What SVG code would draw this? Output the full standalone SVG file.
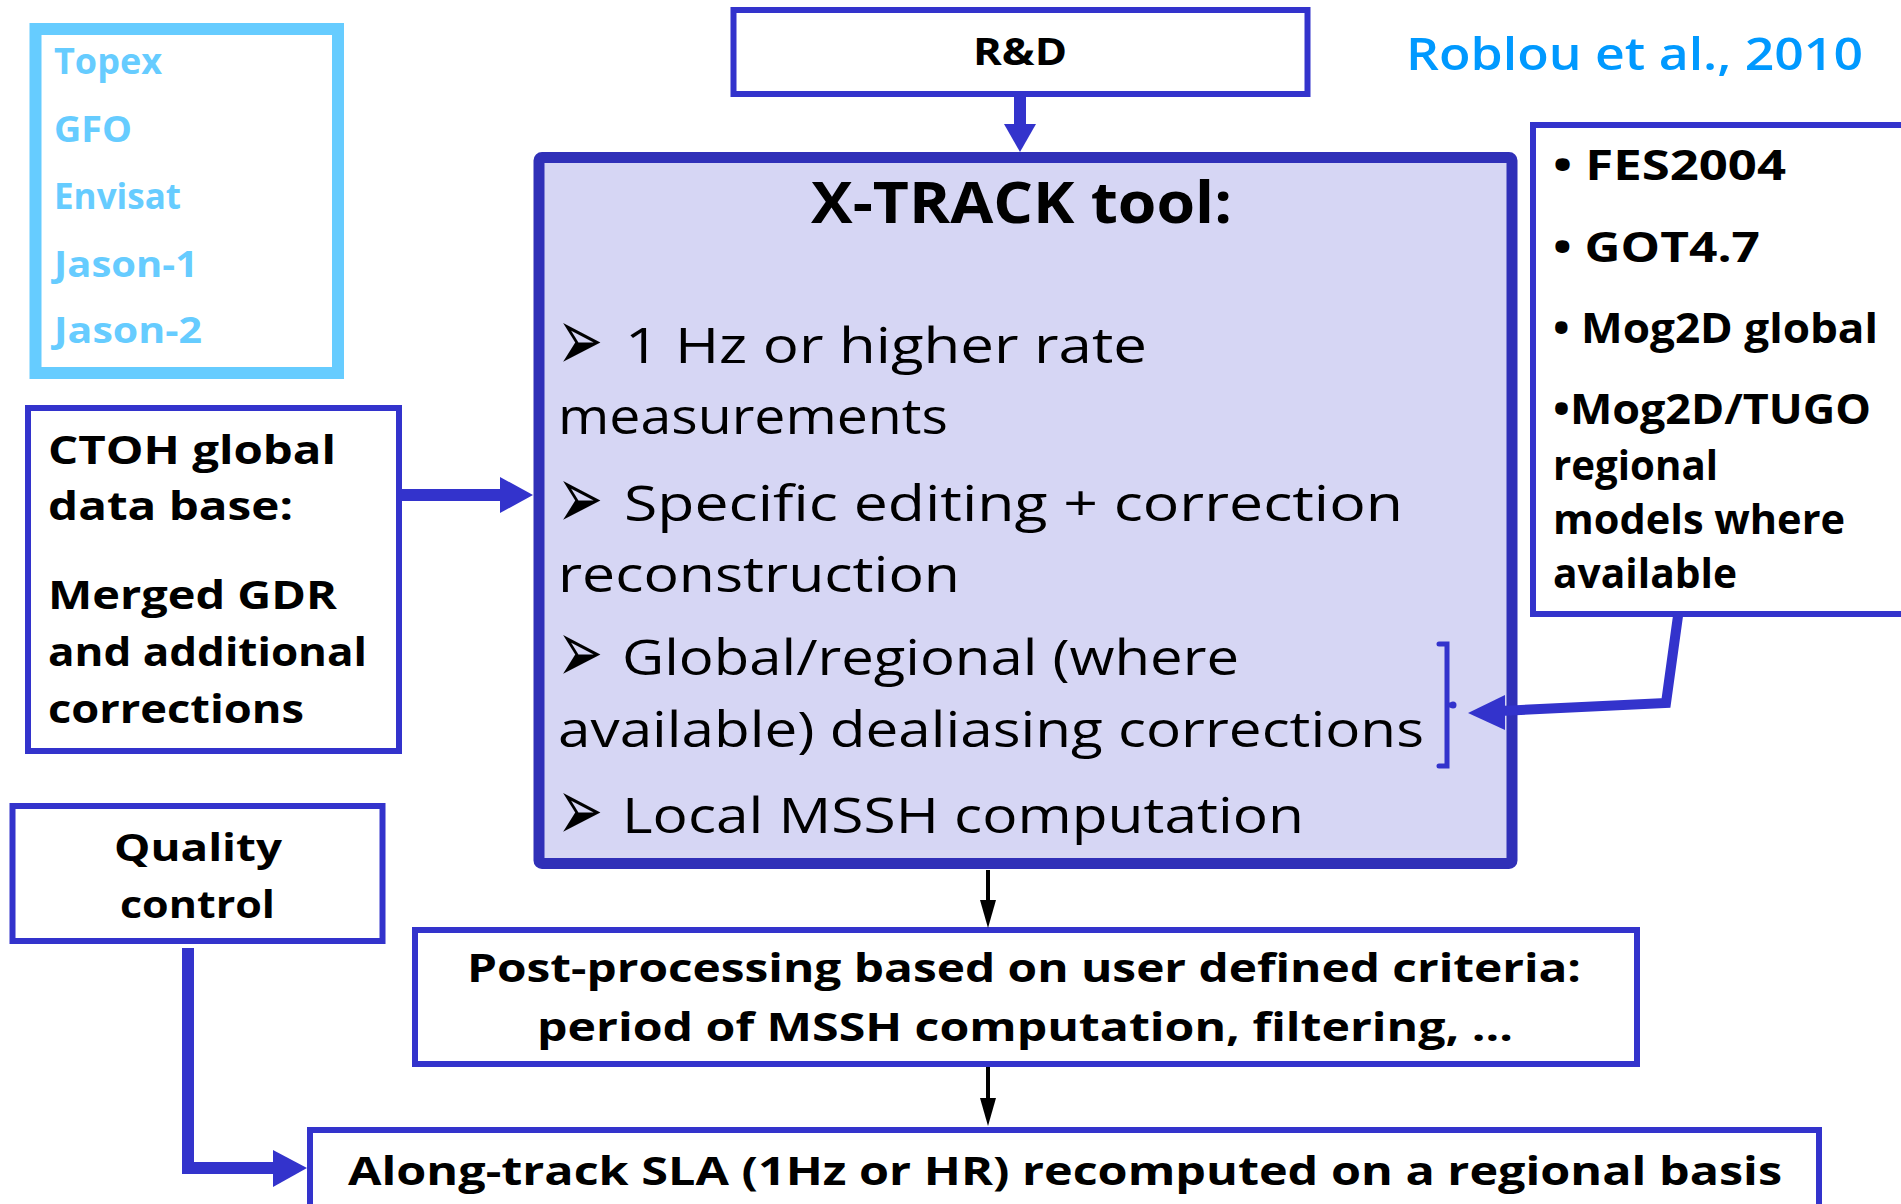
<svg xmlns="http://www.w3.org/2000/svg" width="1901" height="1204" viewBox="0 0 1901 1204">
<defs>
<style>
.box{fill:#fff;stroke:#3333CC;stroke-width:6}
.t{font-family:'Comic Sans MS','Open Sans','DejaVu Sans',sans-serif;fill:#000}
.b{font-weight:bold}
.sat{font-family:'Comic Sans MS','Open Sans','DejaVu Sans',sans-serif;font-weight:bold;fill:#66CCFF;font-size:36px}
.bul{font-family:'DejaVu Sans',sans-serif;font-size:44px;fill:#000}
</style>
</defs>

<g id="satellites">
<rect x="35.5" y="29" width="302.5" height="344" fill="#fff" stroke="#66CCFF" stroke-width="12"/>
<text class="sat" x="54" y="74" textLength="108" lengthAdjust="spacingAndGlyphs">Topex</text>
<text class="sat" x="54" y="142" textLength="78" lengthAdjust="spacingAndGlyphs">GFO</text>
<text class="sat" x="54" y="209" textLength="127" lengthAdjust="spacingAndGlyphs">Envisat</text>
<text class="sat" x="54" y="277" textLength="144" lengthAdjust="spacingAndGlyphs">Jason-1</text>
<text class="sat" x="54" y="343" textLength="148" lengthAdjust="spacingAndGlyphs">Jason-2</text>
</g>

<g id="rnd">
<rect class="box" x="733.5" y="10" width="574" height="84"/>
<text class="t b" x="973" y="65" font-size="38" textLength="94" lengthAdjust="spacingAndGlyphs">R&amp;D</text>
</g>

<g id="citation">
<text x="1406" y="70" font-family="'Comic Sans MS','Open Sans','DejaVu Sans',sans-serif" font-size="46" font-weight="600" fill="#0099FF" textLength="457" lengthAdjust="spacingAndGlyphs">Roblou et al., 2010</text>
</g>

<g id="xtrack">
<rect x="539" y="157.5" width="973" height="706" rx="3" fill="#D6D6F4" stroke="#3030B8" stroke-width="11"/>
<text class="t b" x="811" y="223" font-size="58" textLength="421" lengthAdjust="spacingAndGlyphs">X-TRACK tool:</text>
<text class="bul" transform="translate(557,370) scale(1.25,2)">➢</text>
<text class="t" x="625" y="363" font-size="50" textLength="522" lengthAdjust="spacingAndGlyphs">1 Hz or higher rate</text>
<text class="t" x="558" y="434" font-size="50" textLength="390" lengthAdjust="spacingAndGlyphs">measurements</text>
<text class="bul" transform="translate(557,528) scale(1.25,2)">➢</text>
<text class="t" x="624" y="521" font-size="50" textLength="779" lengthAdjust="spacingAndGlyphs">Specific editing + correction</text>
<text class="t" x="558" y="592" font-size="50" textLength="402" lengthAdjust="spacingAndGlyphs">reconstruction</text>
<text class="bul" transform="translate(557,682) scale(1.25,2)">➢</text>
<text class="t" x="622" y="675" font-size="50" textLength="617" lengthAdjust="spacingAndGlyphs">Global/regional (where</text>
<text class="t" x="558" y="747" font-size="50" textLength="866" lengthAdjust="spacingAndGlyphs">available) dealiasing corrections</text>
<text class="bul" transform="translate(557,840) scale(1.25,2)">➢</text>
<text class="t" x="622" y="833" font-size="50" textLength="682" lengthAdjust="spacingAndGlyphs">Local MSSH computation</text>
<path d="M1439,644 H1447 V766 H1439 M1447,705 H1452" fill="none" stroke="#3333CC" stroke-width="5" stroke-linecap="round"/>
<circle cx="1453" cy="705" r="3.5" fill="#3333CC"/>
</g>

<g id="ctoh">
<rect class="box" x="28" y="408" width="371" height="343"/>
<text class="t b" x="48" y="464" font-size="39" textLength="288" lengthAdjust="spacingAndGlyphs">CTOH global</text>
<text class="t b" x="48" y="520" font-size="39" textLength="245" lengthAdjust="spacingAndGlyphs">data base:</text>
<text class="t b" x="48" y="609" font-size="39" textLength="289" lengthAdjust="spacingAndGlyphs">Merged GDR</text>
<text class="t b" x="48" y="666" font-size="39" textLength="319" lengthAdjust="spacingAndGlyphs">and additional</text>
<text class="t b" x="48" y="723" font-size="39" textLength="256" lengthAdjust="spacingAndGlyphs">corrections</text>
</g>

<g id="tides">
<rect class="box" x="1533" y="125" width="372" height="489"/>
<text class="t b" x="1553" y="180" font-size="42" textLength="233" lengthAdjust="spacingAndGlyphs">• FES2004</text>
<text class="t b" x="1553" y="262" font-size="42" textLength="207" lengthAdjust="spacingAndGlyphs">• GOT4.7</text>
<text class="t b" x="1553" y="343" font-size="42" textLength="325" lengthAdjust="spacingAndGlyphs">• Mog2D global</text>
<text class="t b" x="1553" y="424" font-size="42" textLength="318" lengthAdjust="spacingAndGlyphs">•Mog2D/TUGO</text>
<text class="t b" x="1553" y="480" font-size="42" textLength="165" lengthAdjust="spacingAndGlyphs">regional</text>
<text class="t b" x="1553" y="534" font-size="42" textLength="292" lengthAdjust="spacingAndGlyphs">models where</text>
<text class="t b" x="1553" y="588" font-size="42" textLength="184" lengthAdjust="spacingAndGlyphs">available</text>
</g>

<g id="quality">
<rect class="box" x="12.5" y="806" width="370" height="135"/>
<text class="t b" x="114" y="861" font-size="38" textLength="168" lengthAdjust="spacingAndGlyphs">Quality</text>
<text class="t b" x="120" y="918" font-size="38" textLength="155" lengthAdjust="spacingAndGlyphs">control</text>
</g>

<g id="post">
<rect class="box" x="415" y="930" width="1222" height="134"/>
<text class="t b" x="467" y="982" font-size="40" textLength="1114" lengthAdjust="spacingAndGlyphs">Post-processing based on user defined criteria:</text>
<text class="t b" x="537" y="1041" font-size="40" textLength="976" lengthAdjust="spacingAndGlyphs">period of MSSH computation, filtering, …</text>
</g>

<g id="along">
<rect class="box" x="310" y="1130" width="1509" height="90"/>
<text class="t b" x="348" y="1185" font-size="40" textLength="1434" lengthAdjust="spacingAndGlyphs">Along-track SLA (1Hz or HR) recomputed on a regional basis</text>
</g>

<g id="connectors">
<path d="M1020,96 V125" stroke="#3333CC" stroke-width="12" fill="none"/>
<path d="M1004,124 L1036,124 L1020,152 Z" fill="#3333CC"/>
<path d="M402,495 H502" stroke="#3333CC" stroke-width="12" fill="none"/>
<path d="M500,477 L533,495 L500,513 Z" fill="#3333CC"/>
<path d="M1678,616 L1666,703 L1500,711" stroke="#3333CC" stroke-width="10" fill="none" stroke-linejoin="miter"/>
<path d="M1505,695 L1468,713 L1505,730 Z" fill="#3333CC"/>
<path d="M188,948 V1168 H276" stroke="#3333CC" stroke-width="12" fill="none"/>
<path d="M273,1150 L307,1168 L273,1187 Z" fill="#3333CC"/>
<path d="M988,870 V905" stroke="#000" stroke-width="4" fill="none"/>
<path d="M980,900 L996,900 L988,928 Z" fill="#000"/>
<path d="M988,1067 V1102" stroke="#000" stroke-width="4" fill="none"/>
<path d="M980,1098 L996,1098 L988,1126 Z" fill="#000"/>
</g>
</svg>
